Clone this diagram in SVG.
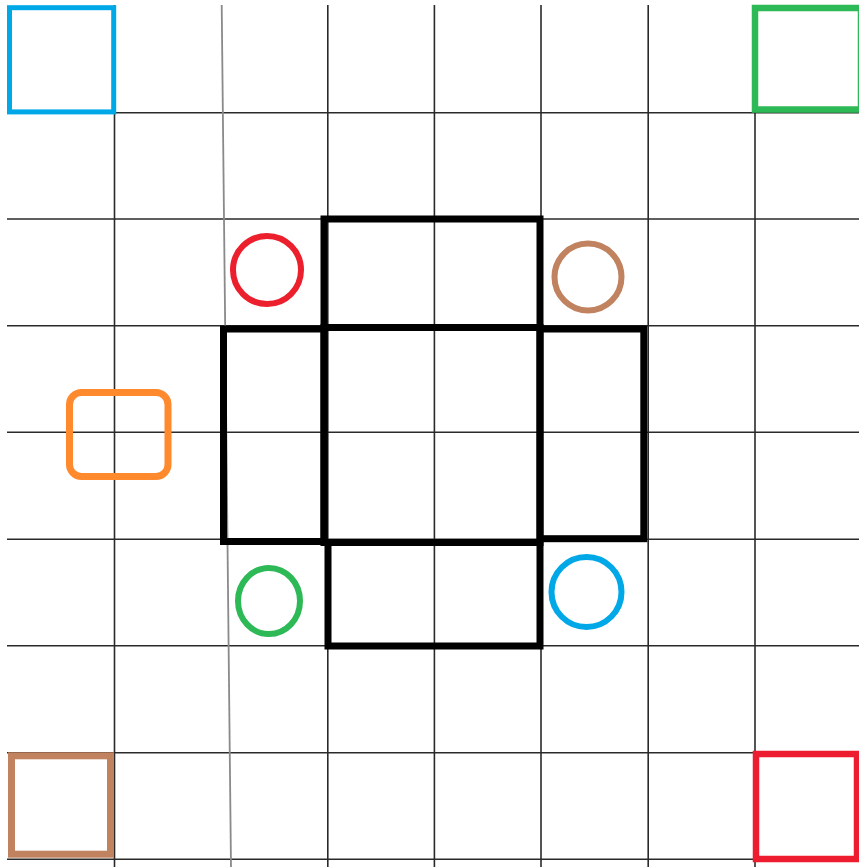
<svg xmlns="http://www.w3.org/2000/svg" width="859" height="867" viewBox="0 0 859 867">
<style>
.g{stroke:#2a2a2a;stroke-width:1.6;fill:none}
.b{stroke:#000;stroke-width:7;fill:none;stroke-linejoin:miter}
.c{fill:none;stroke-width:6}
.s{fill:none}
</style>
<rect width="859" height="867" fill="#fff"/>
<g id="grid">
<line class="g" x1="7" y1="112.7" x2="859" y2="112.7"/>
<line class="g" x1="7" y1="219" x2="859" y2="219"/>
<line class="g" x1="7" y1="325.7" x2="859" y2="325.7"/>
<line class="g" x1="7" y1="432.3" x2="859" y2="432.3"/>
<line class="g" x1="7" y1="539.3" x2="859" y2="539.3"/>
<line class="g" x1="7" y1="645.7" x2="859" y2="645.7"/>
<line class="g" x1="7" y1="752.7" x2="859" y2="752.7"/>
<line class="g" x1="7" y1="859.3" x2="859" y2="859.3"/>
<line class="g" x1="114.5" y1="5" x2="114.5" y2="867"/>
<line x1="221.7" y1="5" x2="231" y2="867" stroke="#8a8a8a" stroke-width="1.8"/>
<line class="g" x1="327.8" y1="5" x2="327.8" y2="867"/>
<line class="g" x1="434.4" y1="5" x2="434.4" y2="867"/>
<line class="g" x1="541" y1="5" x2="541" y2="867"/>
<line class="g" x1="648.2" y1="5" x2="648.2" y2="867"/>
<line class="g" x1="755" y1="5" x2="755" y2="867"/>
</g>
<g id="corner-blue"><rect class="s" x="9.5" y="7.7" width="104.2" height="104.2" stroke="#00A8E8" stroke-width="5"/></g>
<g id="corner-green"><rect class="s" x="755" y="8" width="106" height="101.5" stroke="#2DB955" stroke-width="6.5"/></g>
<g id="corner-brown"><rect class="s" x="11.5" y="755.8" width="99" height="98.4" stroke="#C1825F" stroke-width="7"/></g>
<g id="corner-red"><rect class="s" x="756" y="754" width="101" height="105" stroke="#ED1C2E" stroke-width="6.5"/></g>
<g id="orange"><rect class="s" x="69.5" y="392.5" width="98.5" height="84" rx="12" stroke="#FF8A2E" stroke-width="7"/></g>
<g id="block-top"><rect class="b" x="324" y="219" width="216" height="108.5"/></g>
<g id="block-center"><rect class="b" x="324" y="327.5" width="216" height="215"/></g>
<g id="block-left"><rect class="b" x="223.5" y="329" width="100.5" height="212.5"/></g>
<g id="block-right"><rect class="b" x="540" y="329" width="103.8" height="209.7"/></g>
<g id="block-bottom"><rect class="b" x="328" y="542.5" width="212" height="103.5"/></g>
<g id="circle-red"><circle class="c" cx="267" cy="270" r="34" stroke="#EC1F2D"/></g>
<g id="circle-brown"><circle class="c" cx="588" cy="277" r="33.5" stroke="#C1825F"/></g>
<g id="circle-green"><ellipse class="c" cx="269" cy="601" rx="31" ry="33" stroke="#2DB955"/></g>
<g id="circle-blue"><circle class="c" cx="586.5" cy="592" r="35" stroke="#00A8E8"/></g>
<g id="connectors"></g>
</svg>
